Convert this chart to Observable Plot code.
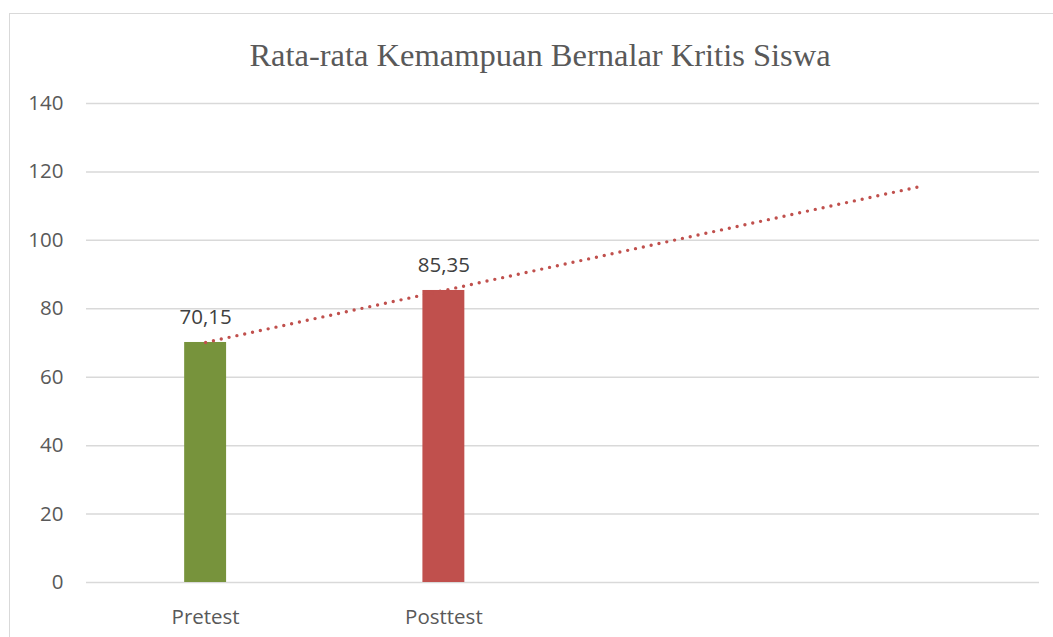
<!DOCTYPE html>
<html>
<head>
<meta charset="utf-8">
<script src="https://cdn.jsdelivr.net/npm/d3@7"></script>
<script src="https://cdn.jsdelivr.net/npm/@observablehq/plot@0.6"></script>
<style>
  html, body { margin: 0; padding: 0; background: #fff; overflow: hidden; }
  #wrap { position: relative; width: 1053px; height: 637px; }
  #frame { position: absolute; left: 9px; top: 13px; width: 1100px; height: 700px; border: 1.5px solid #d9d9d9; box-sizing: border-box; }
  #title { position: absolute; left: 0; width: 1080px; top: 39px; text-align: center;
    font-family: "Liberation Serif", "Times New Roman", serif; font-size: 32.5px; color: #595959; line-height: 1; }
  #chart { position: absolute; left: 0; top: 0; }
</style>
</head>
<body>
<div id="wrap">
  <div id="frame"></div>
  <div id="title">Rata-rata Kemampuan Bernalar Kritis Siswa</div>
  <div id="chart"></div>
</div>
<script>
const categories = ["Pretest", "Posttest", "", ""];
const values = [70.15, 85.35];
const valueLabels = ["70,15", "85,35"];
const barColors = ["#77933C", "#C0504D"];
const yTicks = [0, 20, 40, 60, 80, 100, 120, 140];

const bars = values.map((v, i) => ({idx: i + 1, value: v, label: valueLabels[i], color: barColors[i]}));

// linear trendline (least squares) over the bar values, extended across all categories
const xs = bars.map(d => d.idx), ys = bars.map(d => d.value);
const mx = d3.mean(xs), my = d3.mean(ys);
const slope = d3.sum(xs.map((x, i) => (x - mx) * (ys[i] - my))) / d3.sum(xs.map(x => (x - mx) ** 2));
const intercept = my - slope * mx;
const trend = categories.map((c, i) => ({idx: i + 1, value: intercept + slope * (i + 1)}));

const halfBar = 0.088;

const plot = Plot.plot({
  width: 1053,
  height: 637,
  marginLeft: 86,
  marginRight: 14,
  marginTop: 103,
  marginBottom: 55,
  style: {fontFamily: "'Open Sans', sans-serif", fontSize: "20px", color: "#595959", background: "transparent"},
  x: {domain: [0.5, categories.length + 0.5]},
  y: {domain: [0, 140]},
  marks: [
    Plot.gridY(yTicks, {stroke: "#d9d9d9", strokeOpacity: 1, strokeWidth: 1.5}),
    Plot.axisY(yTicks, {tickSize: 0, tickPadding: 23, label: null, fill: "#595959", fontSize: 20.5}),
    Plot.axisX(categories.map((c, i) => i + 1), {tickSize: 0, tickPadding: 27, label: null, fill: "#595959", fontSize: 20.5,
      tickFormat: d => categories[d - 1]}),
    Plot.rectY(bars, {x1: d => d.idx - halfBar, x2: d => d.idx + halfBar, y1: 0, y2: "value", fill: "color"}),
    Plot.line(trend, {x: "idx", y: "value", stroke: "#C0504D", strokeWidth: 3.4, strokeDasharray: "0,8", strokeLinecap: "round"}),
    Plot.text(bars, {x: "idx", y: "value", text: "label", dy: -25, fill: "#404040", fontSize: 20.5})
  ]
});
document.getElementById("chart").appendChild(plot);
</script>
</body>
</html>
